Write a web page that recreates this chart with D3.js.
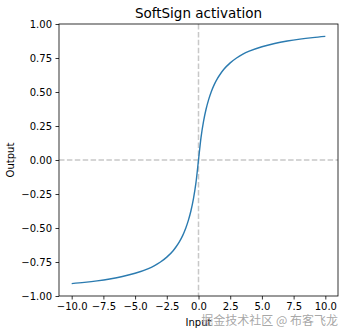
<!DOCTYPE html>
<html>
<head>
<meta charset="utf-8">
<script src="https://cdn.jsdelivr.net/npm/d3@7/dist/d3.min.js"></script>
<style>
  html, body { margin: 0; padding: 0; background: #fff; }
  svg { display: block; font-family: "DejaVu Sans", sans-serif; }
</style>
</head>
<body>
<svg id="chart" width="348" height="334"></svg>
<script>
// SoftSign response sampled across the input range
const inputs = [-10, -9, -8, -7, -6, -5, -4, -3.5, -3, -2.5, -2, -1.75, -1.5, -1.25, -1, -0.8, -0.6, -0.4, -0.2, 0,
                0.2, 0.4, 0.6, 0.8, 1, 1.25, 1.5, 1.75, 2, 2.5, 3, 3.5, 4, 5, 6, 7, 8, 9, 10];
const outputs = [-0.909, -0.900, -0.889, -0.875, -0.857, -0.833, -0.800, -0.778, -0.750, -0.714, -0.667, -0.636, -0.600, -0.556, -0.500, -0.444, -0.375, -0.286, -0.167, 0,
                 0.167, 0.286, 0.375, 0.444, 0.500, 0.556, 0.600, 0.636, 0.667, 0.714, 0.750, 0.778, 0.800, 0.833, 0.857, 0.875, 0.889, 0.900, 0.909];
const xTicks = [-10, -7.5, -5, -2.5, 0, 2.5, 5, 7.5, 10];
const yTicks = [-1, -0.75, -0.5, -0.25, 0, 0.25, 0.5, 0.75, 1];

const svg = d3.select("#chart");
const plotLeft = 59, plotRight = 338, plotTop = 24, plotBottom = 296;

const x = d3.scaleLinear().domain([-11, 11]).range([plotLeft, plotRight]);
const y = d3.scaleLinear().domain([-1, 1]).range([plotBottom, plotTop]);

// Dashed reference lines through the origin
svg.append("line")
  .attr("x1", x(0)).attr("x2", x(0)).attr("y1", plotTop).attr("y2", plotBottom)
  .attr("stroke", "#c8c8c8").attr("stroke-width", 1.5).attr("stroke-dasharray", "5.5,2.4");
svg.append("line")
  .attr("x1", plotLeft).attr("x2", plotRight).attr("y1", y(0)).attr("y2", y(0))
  .attr("stroke", "#c8c8c8").attr("stroke-width", 1.5).attr("stroke-dasharray", "5.5,2.4");

// Curve
const pts = inputs.map((v, i) => [v, outputs[i]]);
svg.append("path")
  .datum(pts)
  .attr("fill", "none")
  .attr("stroke", "#2b7bb0")
  .attr("stroke-width", 1.4)
  .attr("d", d3.line().x(d => x(d[0])).y(d => y(d[1])).curve(d3.curveMonotoneX));

// Axes
const fmt = d => d3.format(".1f")(d).replace("-", "\u2212");
const fmtY = d => d3.format(".2f")(d).replace("-", "\u2212");
const xAxis = svg.append("g").attr("transform", `translate(0,${plotBottom})`)
  .call(d3.axisBottom(x).tickValues(xTicks).tickFormat(fmt).tickSizeOuter(0).tickSize(3.5).tickPadding(3.5));
const yAxis = svg.append("g").attr("transform", `translate(${plotLeft},0)`)
  .call(d3.axisLeft(y).tickValues(yTicks).tickFormat(fmtY).tickSizeOuter(0).tickSize(3.5).tickPadding(3.5));
[xAxis, yAxis].forEach(g => {
  g.select(".domain").remove();
  g.selectAll("text").attr("font-size", 10).attr("fill", "#000").attr("font-family", "DejaVu Sans");
  g.selectAll("line").attr("stroke", "#000").attr("stroke-width", 0.8);
});

// Frame
svg.append("rect")
  .attr("x", plotLeft).attr("y", plotTop).attr("width", plotRight - plotLeft).attr("height", plotBottom - plotTop)
  .attr("fill", "none").attr("stroke", "#000").attr("stroke-width", 0.8);

// Labels
svg.append("text").attr("x", (plotLeft + plotRight) / 2).attr("y", 18)
  .attr("text-anchor", "middle").attr("font-size", 13.5).text("SoftSign activation");
svg.append("text").attr("x", (plotLeft + plotRight) / 2).attr("y", 326)
  .attr("text-anchor", "middle").attr("font-size", 10).text("Input");
svg.append("text").attr("transform", `translate(14,${(plotTop + plotBottom) / 2}) rotate(-90)`)
  .attr("text-anchor", "middle").attr("font-size", 10).text("Output");

// Watermark
svg.append("text").attr("x", 338).attr("y", 325)
  .attr("text-anchor", "end").attr("font-size", 12)
  .attr("font-family", "Noto Sans CJK SC")
  .attr("fill", "#9c9c9c").attr("fill-opacity", 0.9)
  .text("掘金技术社区 @ 布客飞龙");
</script>
</body>
</html>
